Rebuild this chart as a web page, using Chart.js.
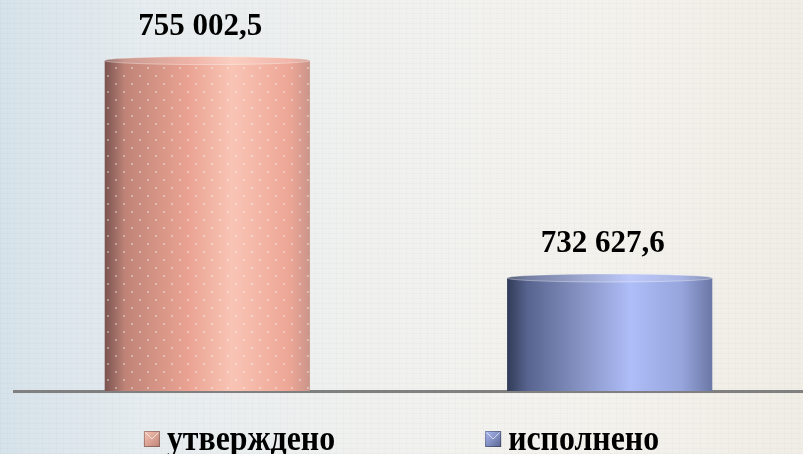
<!DOCTYPE html>
<html lang="ru">
<head>
<meta charset="utf-8">
<title>утверждено / исполнено</title>
<script src="https://cdn.jsdelivr.net/npm/chart.js@4.4.1/dist/chart.umd.min.js"></script>
<style>
  html, body { margin: 0; padding: 0; }
  #wrap {
    width: 803px; height: 454px; position: relative;
    background:
      repeating-linear-gradient(0deg, rgba(110,120,130,0.035) 0 1px, transparent 1px 5px),
      repeating-linear-gradient(90deg, rgba(110,120,130,0.03) 0 1px, transparent 1px 7px),
      linear-gradient(to right, #d6e2ea 0%, #e6ecef 18%, #f0f1ef 45%, #f4f2ed 75%, #f0ede6 100%);
  }
</style>
</head>
<body>
<div id="wrap"><canvas id="chart"></canvas></div>
<script>
// ==================== DADOS ====================
const categories = [''];
const seriesNames = ['утверждено', 'исполнено'];
const seriesValues = [755002.5, 732627.6];

// cores das colunas (gradiente horizontal do cilindro)
const pinkStops = [[0, '#7a5350'], [0.1, '#bf8477'], [0.4, '#e9a292'], [0.62, '#f9c4b4'], [0.9, '#eda696'], [1, '#c99589']];
const blueStops = [[0, '#313b57'], [0.1, '#58648f'], [0.35, '#8591c1'], [0.6, '#afbdf8'], [0.85, '#97a5dd'], [1, '#6b77a5']];
const seriesStops = [pinkStops, blueStops];

function fmt(v) {
  const parts = v.toFixed(1).split('.');
  const int = parts[0].replace(/\B(?=(\d{3})+(?!\d))/g, ' ');
  return int + ',' + parts[1];
}

function hGradient(ctx, x0, x1, stops) {
  const g = ctx.createLinearGradient(x0, 0, x1, 0);
  stops.forEach(([p, c]) => g.addColorStop(p, c));
  return g;
}

// padrão de pontinhos brancos da coluna rosa
function dotPattern(ctx) {
  const c = document.createElement('canvas');
  c.width = 16; c.height = 16;
  const p = c.getContext('2d');
  p.fillStyle = 'rgba(255,255,255,0.45)';
  p.beginPath(); p.arc(4, 4, 1.1, 0, Math.PI * 2); p.fill();
  p.beginPath(); p.arc(12, 12, 1.1, 0, Math.PI * 2); p.fill();
  return ctx.createPattern(c, 'repeat');
}

// ==================== CILINDROS + RÓTULOS ====================
const cylinderPlugin = {
  id: 'cylinders',
  afterDatasetsDraw(chart) {
    const ctx = chart.ctx;
    chart.data.datasets.forEach((ds, i) => {
      const meta = chart.getDatasetMeta(i);
      meta.data.forEach((bar, j) => {
        const { x, y, width } = bar.getProps(['x', 'y', 'width'], true);
        const base = chart.chartArea.bottom;
        const left = x - width / 2, right = x + width / 2;
        const ry = 4;
        ctx.save();
        // corpo
        ctx.fillStyle = hGradient(ctx, left, right, seriesStops[i]);
        ctx.fillRect(left, y, width, base - y);
        if (i === 0) {
          ctx.fillStyle = dotPattern(ctx);
          ctx.fillRect(left, y, width, base - y);
        }
        // tampa
        ctx.beginPath();
        ctx.ellipse(x, y, width / 2, ry, 0, 0, Math.PI * 2);
        ctx.fillStyle = hGradient(ctx, left, right, seriesStops[i]);
        ctx.fill();
        ctx.fillStyle = 'rgba(255,255,255,0.18)';
        ctx.fill();
        ctx.strokeStyle = 'rgba(255,255,255,0.35)';
        ctx.lineWidth = 1;
        ctx.stroke();
        // valor
        ctx.fillStyle = '#000';
        ctx.font = 'bold 31px "Liberation Serif", "Times New Roman", serif';
        ctx.textAlign = 'center';
        ctx.textBaseline = 'alphabetic';
        ctx.fillText(fmt(ds.data[j]), x - 7, y - 26);
        ctx.restore();
      });
    });
  }
};

// ==================== LEGENDA ====================
const legendPlugin = {
  id: 'legendRow',
  afterDraw(chart) {
    const ctx = chart.ctx;
    const box = 16, gapBox = 7, gapItem = 150, sx = 0.91;
    ctx.save();
    ctx.font = 'bold 35px "Liberation Serif", "Times New Roman", serif';
    const widths = seriesNames.map(n => box + gapBox + ctx.measureText(n).width * sx);
    const total = widths.reduce((a, b) => a + b, 0) + gapItem * (seriesNames.length - 1);
    let cx = (chart.width - total) / 2;
    const baseline = 450, boxTop = 431;
    seriesNames.forEach((name, i) => {
      const stops = seriesStops[i];
      const g = ctx.createLinearGradient(cx, boxTop, cx + box, boxTop + box);
      g.addColorStop(0, stops[3][1]);
      g.addColorStop(1, stops[1][1]);
      ctx.fillStyle = g;
      ctx.fillRect(cx, boxTop, box, box);
      ctx.strokeStyle = 'rgba(255,255,255,0.7)';
      ctx.lineWidth = 1;
      ctx.beginPath();
      ctx.moveTo(cx + 1.5, boxTop + 1.5); ctx.lineTo(cx + box / 2, boxTop + box / 2); ctx.lineTo(cx + box - 1.5, boxTop + 1.5);
      ctx.stroke();
      ctx.strokeStyle = 'rgba(0,0,0,0.3)';
      ctx.strokeRect(cx + 0.5, boxTop + 0.5, box - 1, box - 1);

      ctx.fillStyle = '#000';
      ctx.textAlign = 'left';
      ctx.textBaseline = 'alphabetic';
      ctx.save();
      ctx.translate(cx + box + gapBox, baseline);
      ctx.scale(sx, 1);
      ctx.fillText(name, 0, 0);
      ctx.restore();
      cx += widths[i] + gapItem;
    });
    ctx.restore();
  }
};

// ==================== GRÁFICO ====================
const ctxChart = document.getElementById('chart');
new Chart(ctxChart, {
  type: 'bar',
  data: {
    labels: categories,
    datasets: seriesNames.map((name, i) => ({
      label: name,
      data: [seriesValues[i]],
      backgroundColor: 'transparent',
      borderWidth: 0,
      categoryPercentage: 1.02,
      barPercentage: 0.51,
    })),
  },
  options: {
    responsive: true,
    maintainAspectRatio: false,
    animation: false,
    layout: { padding: { left: 14, right: 0, top: 12, bottom: 63 } },
    plugins: { legend: { display: false }, tooltip: { enabled: false } },
    scales: {
      x: {
        ticks: { display: false },
        grid: { display: false, drawTicks: false },
        border: { display: true, color: '#808080', width: 3 },
      },
      y: { display: false, min: 721000, max: 760000 },
    },
  },
  plugins: [cylinderPlugin, legendPlugin],
});
</script>
</body>
</html>
